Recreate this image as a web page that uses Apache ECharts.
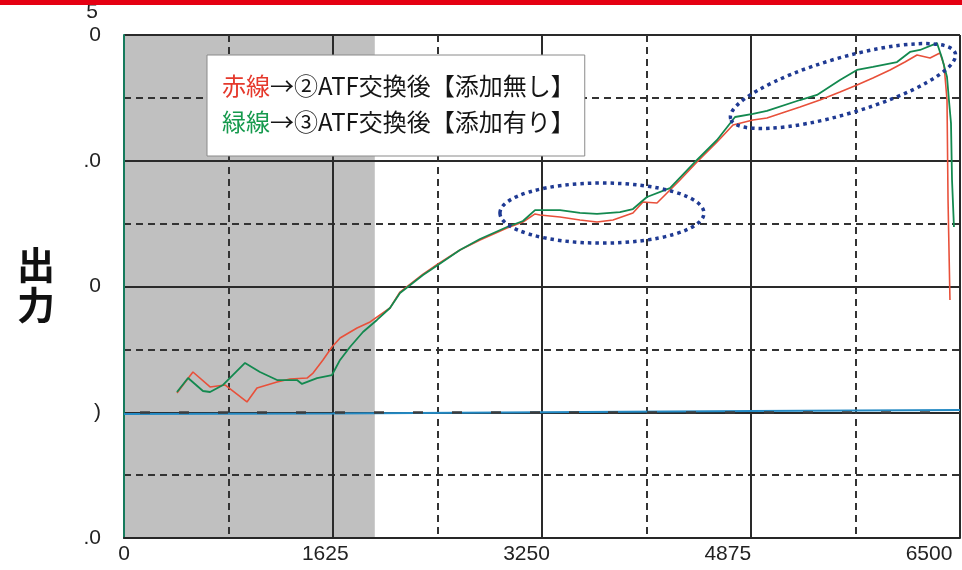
<!DOCTYPE html>
<html><head><meta charset="utf-8">
<script src="https://cdn.jsdelivr.net/npm/echarts/dist/echarts.min.js"></script>
<style>html,body{margin:0;padding:0;background:#fff}#c{width:962px;height:570px}</style>
</head><body><div id="c"></div><script>
// ---- data ----
const xTickLabels = ['0', '1625', '3250', '4875', '6500'];
const yTickLabels = ['.0', ')', '0', '.0', '0'];
const redName = '赤線→②ATF交換後【添加無し】';
const greenName = '緑線→③ATF交換後【添加有り】';
const redX = [412,536,669,785,956,1034,1190,1291,1423,1470,1547,1617,1680,1812,1913,2068,2146,2325,2441,2612,2768,2978,3102,3196,3234,3390,3545,3678,3802,3957,4035,4144,4222,4323,4455,4611,4735,4890,4999,5139,5256,5411,5567,5699,5823,5956,6072,6166,6267,6344,6376,6399,6407,6422];
const redY = [1.153,1.320,1.201,1.217,1.082,1.193,1.241,1.264,1.272,1.312,1.416,1.519,1.590,1.670,1.718,1.829,1.956,2.099,2.179,2.290,2.370,2.465,2.513,2.577,2.569,2.553,2.529,2.513,2.529,2.585,2.672,2.664,2.744,2.847,2.990,3.149,3.284,3.324,3.340,3.388,3.427,3.483,3.547,3.602,3.658,3.722,3.785,3.841,3.817,3.857,3.761,3.483,2.688,1.893];
const greenX = [412,498,614,669,770,941,1057,1190,1345,1384,1501,1617,1680,1757,1858,1967,2068,2146,2325,2441,2612,2768,2978,3102,3196,3390,3545,3678,3856,3957,4066,4245,4455,4611,4751,4890,4999,5256,5388,5567,5699,5823,6010,6111,6189,6321,6360,6399,6414,6430,6438,6453];
const greenY = [1.161,1.272,1.169,1.161,1.217,1.392,1.320,1.256,1.256,1.225,1.272,1.296,1.416,1.519,1.638,1.734,1.829,1.948,2.091,2.171,2.290,2.378,2.473,2.521,2.608,2.608,2.585,2.577,2.592,2.616,2.712,2.783,3.006,3.165,3.348,3.372,3.396,3.483,3.523,3.642,3.722,3.746,3.785,3.865,3.881,3.936,3.817,3.666,3.483,3.300,2.847,2.473];
const blueX = [0, 1625, 3250, 4875, 6500];
const blueY = [0.986, 0.990, 1.000, 1.010, 1.018];
const shadedRange = [0, 1950];
// annotation ellipses in data units: [centerX, centerY, halfWidthX, halfHeightY, rotationDeg]
const ellipseA = [3716, 2.584, 793, 0.239, 0];
const ellipseB = [5590, 3.594, 910, 0.223, 16.3];

const pairs = (xs, ys) => xs.map((x, i) => [x, ys[i]]);
const NARROW = '"Liberation Sans Narrow", "Liberation Sans", sans-serif';
const CJK = '"Noto Sans CJK JP", sans-serif';

const chart = echarts.init(document.getElementById('c'), null, {renderer: 'canvas'});
chart.setOption({
  animation: false,
  backgroundColor: '#fff',
  grid: {left: 124, right: 2, top: 35, bottom: 32, containLabel: false, outerBoundsMode: 'none'},
  legend: {
    data: [redName, greenName],
    orient: 'vertical', left: 207, top: 55,
    padding: [16, 10, 19, 10], itemGap: 6,
    itemWidth: 0, itemHeight: 0, icon: 'rect',
    backgroundColor: '#fff', borderColor: '#8a8a8a', borderWidth: 1, borderRadius: 0,
    selectedMode: false,
    formatter: n => {
      const head = n.slice(0, 2), rest = n.slice(2);
      return '{' + (n === redName ? 'r' : 'g') + '|' + head + '}{k|' + rest + '}';
    },
    textStyle: {
      fontFamily: CJK, fontSize: 24, lineHeight: 30, color: '#111',
      rich: {
        r: {color: '#e5392c', fontFamily: CJK, fontSize: 24, lineHeight: 30},
        g: {color: '#179a4e', fontFamily: CJK, fontSize: 24, lineHeight: 30},
        k: {color: '#151515', fontFamily: CJK, fontSize: 24, lineHeight: 30}
      }
    }
  },
  xAxis: [{
    type: 'value', min: 0, max: 6500, interval: 1625,
    axisLine: {show: true, onZero: false, lineStyle: {color: '#262626', width: 2}},
    axisTick: {show: false},
    axisLabel: {show: false},
    splitLine: {show: true, lineStyle: {color: '#2a2a2a', width: 2}},
    minorTick: {show: false, splitNumber: 2},
    minorSplitLine: {show: true, lineStyle: {color: '#333', width: 2, type: [7, 5]}}
  }, {
    type: 'value', min: 0, max: 6750, interval: 1625, position: 'bottom',
    axisLine: {show: false}, axisTick: {show: false}, splitLine: {show: false},
    axisLabel: {
      show: true, showMaxLabel: false, margin: 6,
      formatter: v => xTickLabels[Math.round(v / 1625)] ?? '',
      fontFamily: NARROW, fontSize: 21, color: '#222'
    }
  }],
  yAxis: {
    type: 'value', min: 0, max: 4, interval: 1,
    axisLine: {show: true, onZero: false, lineStyle: {color: '#157a5c', width: 2}},
    axisTick: {show: false},
    axisLabel: {
      margin: 23, fontFamily: NARROW, fontSize: 21, color: '#222',
      formatter: v => yTickLabels[Math.round(v)] ?? ''
    },
    splitLine: {show: true, lineStyle: {color: '#2a2a2a', width: 2}},
    minorTick: {show: false, splitNumber: 2},
    minorSplitLine: {show: true, lineStyle: {color: '#333', width: 2, type: [7, 5]}}
  },
  series: [{
    name: 'base', type: 'line', xAxisIndex: 0,
    data: pairs(blueX, blueY), symbol: 'none', silent: true,
    lineStyle: {color: '#2389c3', width: 2.2}, z: 2,
    markArea: {
      silent: true, z: -1,
      itemStyle: {color: '#c0c0c0'},
      data: [[{xAxis: shadedRange[0]}, {xAxis: shadedRange[1]}]]
    },
    markLine: {
      silent: true, symbol: 'none', z: 3,
      label: {show: false},
      lineStyle: {color: '#3c3c3c', width: 2.5, type: [10, 29], dashOffset: 23},
      data: [{yAxis: 1}]
    }
  }, {
    name: redName, type: 'line', xAxisIndex: 0,
    data: pairs(redX, redY), symbol: 'none',
    lineStyle: {color: '#e8503a', width: 1.6}, z: 3
  }, {
    name: greenName, type: 'line', xAxisIndex: 0,
    data: pairs(greenX, greenY), symbol: 'none',
    lineStyle: {color: '#13894f', width: 1.8}, z: 4
  }]
});

function ellipseGraphic(e) {
  const c = chart.convertToPixel({gridIndex: 0}, [e[0], e[1]]);
  const px = chart.convertToPixel({gridIndex: 0}, [e[0] + e[2], e[1]]);
  const py = chart.convertToPixel({gridIndex: 0}, [e[0], e[1] + e[3]]);
  return {
    type: 'ellipse', x: c[0], y: c[1], rotation: e[4] * Math.PI / 180,
    shape: {cx: 0, cy: 0, rx: Math.abs(px[0] - c[0]), ry: Math.abs(py[1] - c[1])},
    style: {fill: null, stroke: '#1f3a93', lineWidth: 3.5, lineDash: [3.5, 4]},
    z: 20, silent: true
  };
}

chart.setOption({
  graphic: [
    {type: 'text', x: 92, y: 12, z: 50, silent: true,
      style: {text: '5', fontFamily: NARROW, fontSize: 21, fill: '#222', textAlign: 'center', textVerticalAlign: 'middle'}},
    {type: 'rect', shape: {x: 0, y: 0, width: 962, height: 5}, style: {fill: '#e50012'}, z: 100, silent: true},
    {type: 'text', x: 36, y: 285, z: 50, silent: true,
      style: {text: '出\n力', fontFamily: CJK, fontWeight: 'bold', fontSize: 38, lineHeight: 40, fill: '#111', textAlign: 'center', textVerticalAlign: 'middle'}},
    ellipseGraphic(ellipseA),
    ellipseGraphic(ellipseB)
  ]
});
</script></body></html>
